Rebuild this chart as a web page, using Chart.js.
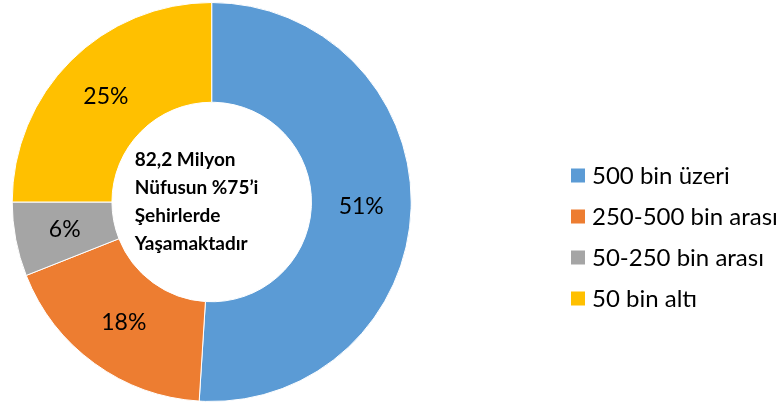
<!DOCTYPE html>
<html>
<head>
<meta charset="utf-8">
<script src="https://cdn.jsdelivr.net/npm/chart.js@4"></script>
<style>
  html, body { margin: 0; padding: 0; background: #fff; }
  #wrap { width: 782px; height: 405px; }
</style>
</head>
<body>
<div id="wrap"><canvas id="cityChart" width="782" height="405"></canvas></div>
<script>
// chart data
const categories = ['500 bin üzeri', '250-500 bin arası', '50-250 bin arası', '50 bin altı'];
const shares = [51, 18, 6, 25];
const sliceColors = ['#5B9BD5', '#ED7D31', '#A5A5A5', '#FFC000'];
const centerLines = ['82,2 Milyon', 'Nüfusun %75’i', 'Şehirlerde', 'Yaşamaktadır'];

// percent labels in the middle of each ring slice
const sliceLabels = {
    id: 'sliceLabels',
    afterDatasetsDraw(chart) {
        const ctx = chart.ctx;
        const meta = chart.getDatasetMeta(0);
        ctx.save();
        ctx.font = '23px Lato';
        ctx.fillStyle = '#000';
        ctx.textAlign = 'center';
        ctx.textBaseline = 'middle';
        meta.data.forEach((arc, i) => {
            const pos = arc.tooltipPosition();
            ctx.fillText(chart.data.datasets[0].data[i] + '%', pos.x, pos.y);
        });
        ctx.restore();
    }
};

// text inside the hole
const centerText = {
    id: 'centerText',
    afterDatasetsDraw(chart) {
        const ctx = chart.ctx;
        const arc = chart.getDatasetMeta(0).data[0];
        ctx.save();
        ctx.font = 'bold 19px Lato';
        ctx.fillStyle = '#000';
        ctx.textAlign = 'left';
        ctx.textBaseline = 'middle';
        const lineGap = 28;
        const startY = arc.y - lineGap * (centerLines.length - 1) / 2;
        centerLines.forEach((line, i) => {
            ctx.fillText(line, arc.x - 77, startY + i * lineGap);
        });
        ctx.restore();
    }
};

// legend on the right, drawn from the chart's own labels and colours
const sideLegend = {
    id: 'sideLegend',
    afterDraw(chart) {
        const ctx = chart.ctx;
        const ds = chart.data.datasets[0];
        const boxX = 571, box = 14, rowGap = 41, firstY = 175.5;
        ctx.save();
        ctx.font = '24px Lato';
        ctx.textAlign = 'left';
        ctx.textBaseline = 'middle';
        chart.data.labels.forEach((label, i) => {
            const y = firstY + i * rowGap;
            ctx.fillStyle = ds.backgroundColor[i];
            ctx.fillRect(boxX, y - box / 2, box, box);
            ctx.fillStyle = '#000';
            ctx.fillText(label, boxX + box + 7, y + 1);
        });
        ctx.restore();
    }
};

new Chart(document.getElementById('cityChart'), {
    type: 'doughnut',
    data: {
        labels: categories,
        datasets: [{
            data: shares,
            backgroundColor: sliceColors,
            borderColor: '#fff',
            borderWidth: 1
        }]
    },
    options: {
        responsive: false,
        animation: false,
        cutout: '50%',
        layout: {
            padding: { left: 11.7, top: 2, bottom: 3, right: 370.3 }
        },
        plugins: {
            legend: { display: false },
            tooltip: { enabled: false }
        }
    },
    plugins: [sliceLabels, centerText, sideLegend]
});
</script>
</body>
</html>
